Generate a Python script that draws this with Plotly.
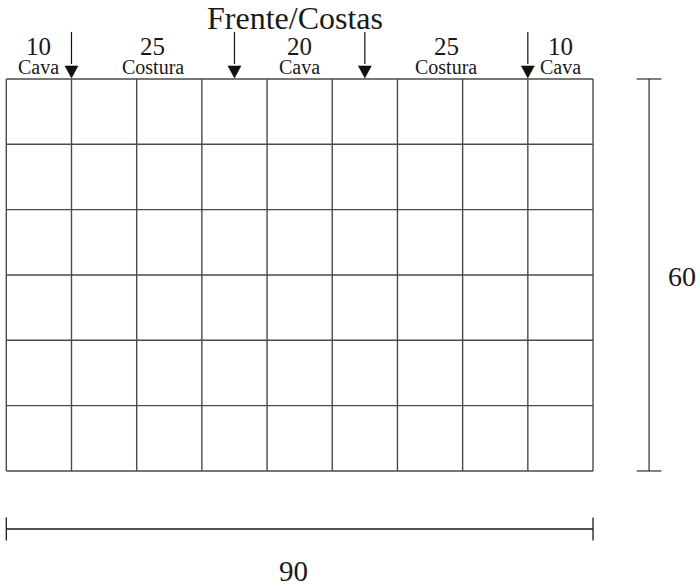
import plotly.graph_objects as go

# ---- data ----
n_cols = 9
n_rows = 6
cell = 10
width_total = 90
height_total = 60
title_text = "Frente/Costas"
arrow_x = [10, 35, 55, 80]
seg_values = ["10", "25", "20", "25", "10"]
seg_names = ["Cava", "Costura", "Cava", "Costura", "Cava"]
seg_bounds = [0, 10, 35, 55, 80, 90]
width_label = "90"
height_label = "60"

FONT = "Liberation Serif, Times New Roman, serif"
GRID_COLOR = "#4a4a4a"
DIM_COLOR = "#1a1a1a"

fig = go.Figure()

# grid lines
gx, gy = [], []
for i in range(n_cols + 1):
    gx += [i * cell, i * cell, None]
    gy += [0, height_total, None]
for j in range(n_rows + 1):
    gx += [0, width_total, None]
    gy += [j * cell, j * cell, None]
fig.add_trace(go.Scatter(x=gx, y=gy, mode="lines",
                         line=dict(color=GRID_COLOR, width=1.4),
                         hoverinfo="skip", showlegend=False))

# horizontal dimension line (width)
hy = -8.88
hcap = 1.76
fig.add_trace(go.Scatter(
    x=[0, width_total, None, 0, 0, None, width_total, width_total],
    y=[hy, hy, None, hy + hcap, hy - hcap, None, hy + hcap, hy - hcap],
    mode="lines", line=dict(color=DIM_COLOR, width=1.3),
    hoverinfo="skip", showlegend=False))

# vertical dimension line (height)
vx = 98.6
vcap = 1.9
fig.add_trace(go.Scatter(
    x=[vx, vx, None, vx - vcap, vx + vcap, None, vx - vcap, vx + vcap],
    y=[0, height_total, None, 0, 0, None, height_total, height_total],
    mode="lines", line=dict(color=DIM_COLOR, width=1.1),
    hoverinfo="skip", showlegend=False))

# arrows: shafts
ax_, ay_ = [], []
shaft_top = 67.2
head_base = 62.0
head_tip = height_total + 0.15
head_half = 1.0
for x in arrow_x:
    ax_ += [x, x, None]
    ay_ += [shaft_top, head_base + 0.3, None]
fig.add_trace(go.Scatter(x=ax_, y=ay_, mode="lines",
                         line=dict(color="#111111", width=1.2),
                         hoverinfo="skip", showlegend=False))
# arrow heads
for x in arrow_x:
    fig.add_trace(go.Scatter(
        x=[x - head_half, x + head_half, x, x - head_half],
        y=[head_base, head_base, head_tip, head_base],
        mode="lines", fill="toself", fillcolor="#111111",
        line=dict(color="#111111", width=0.5),
        hoverinfo="skip", showlegend=False))

annotations = []
# title
annotations.append(dict(x=44.3, y=69.4, text=title_text, showarrow=False,
                        xanchor="center", yanchor="middle",
                        font=dict(family=FONT, size=32, color="#1a1a1a")))
# segment labels
for k in range(len(seg_values)):
    cx = (seg_bounds[k] + seg_bounds[k + 1]) / 2
    annotations.append(dict(x=cx, y=64.9, text=seg_values[k], showarrow=False,
                            xanchor="center", yanchor="middle",
                            font=dict(family=FONT, size=25, color="#1a1a1a")))
    annotations.append(dict(x=cx, y=61.9, text=seg_names[k], showarrow=False,
                            xanchor="center", yanchor="middle",
                            font=dict(family=FONT, size=20, color="#1a1a1a")))
# dimension labels
annotations.append(dict(x=44.0, y=-15.3, text=width_label, showarrow=False,
                        xanchor="center", yanchor="middle",
                        font=dict(family=FONT, size=29, color="#1a1a1a")))
annotations.append(dict(x=103.6, y=29.7, text=height_label, showarrow=False,
                        xanchor="center", yanchor="middle",
                        font=dict(family=FONT, size=28, color="#1a1a1a")))

fig.update_layout(
    width=700, height=587,
    margin=dict(l=0, r=0, t=0, b=0),
    paper_bgcolor="white", plot_bgcolor="white",
    xaxis=dict(range=[-0.966, 106.41], visible=False, fixedrange=True),
    yaxis=dict(range=[-17.76, 72.09], visible=False, fixedrange=True),
    annotations=annotations,
    showlegend=False,
)

fig.write_html(
    "out.html",
    config={"displayModeBar": False},
    post_script="document.body.style.margin='0';document.body.style.overflow='hidden';",
)
